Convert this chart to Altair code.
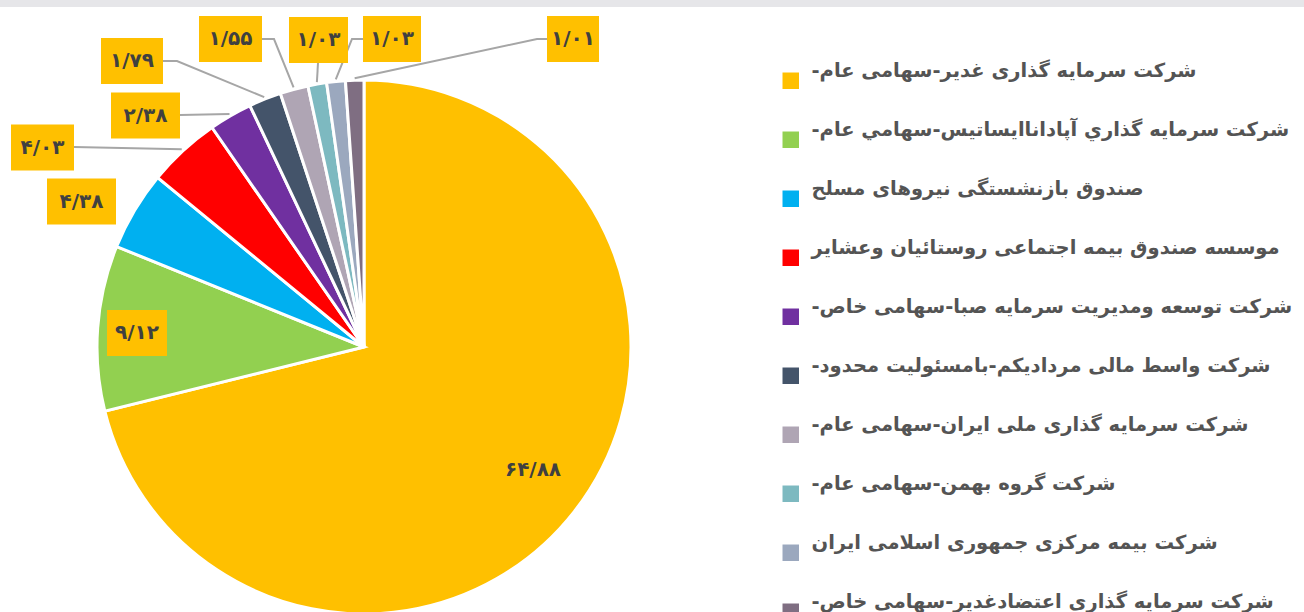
import math
import altair as alt
import pandas as pd

# ---------------- data ----------------
names = [
    "شرکت سرمایه گذاری غدیر-سهامی عام-",
    "شرکت سرمایه گذاري آپاداناایساتیس-سهامي عام-",
    "صندوق بازنشستگی نیروهای مسلح",
    "موسسه صندوق بیمه اجتماعی روستائیان وعشایر",
    "شرکت توسعه ومدیریت سرمایه صبا-سهامی خاص-",
    "شرکت واسط مالی مردادیکم-بامسئولیت محدود-",
    "شرکت سرمایه گذاری ملی ایران-سهامی عام-",
    "شرکت گروه بهمن-سهامی عام-",
    "شرکت بیمه مرکزی جمهوری اسلامی ایران",
    "شرکت سرمایه گذاری اعتضادغدیر-سهامی خاص-",
]
values = [64.88, 9.12, 4.38, 4.03, 2.38, 1.79, 1.55, 1.03, 1.03, 1.01]
colors = ["#FFC000", "#92D050", "#00B0F0", "#FF0000", "#7030A0",
          "#44546A", "#AFA5B4", "#7DB9C0", "#9BA8BE", "#7F6E82"]

# ---------------- layout ----------------
CX, CY, R = 364, 347, 267
label_x = [533, 137, 81.5, 42.5, 145.5, 132, 230.5, 318.5, 392, 573]
label_y = [470, 333, 201.5, 147.5, 115.5, 61, 39, 40, 39, 39]
box_w = [0, 60, 69, 63, 69, 62, 63, 59, 58, 52]
BOX_H = 46
leader_start = [None, None, None, (74, 147), (180, 115), (163, 61),
                (262, 39), (318, 63), (363, 39), (547, 39)]
leader_elbow = [None, None, None, None, None, (177, 61),
                (274, 39), None, (352, 39), (537, 39)]

to_fa = str.maketrans("0123456789.", "۰۱۲۳۴۵۶۷۸۹/")
labels = [f"{v:.2f}".translate(to_fa) for v in values]

pie_df = pd.DataFrame({"name": names, "value": values, "ord": list(range(len(values)))})

total = sum(values)
cum = 0.0
mids = []
for v in values:
    mids.append((cum + v / 2) / total * 2 * math.pi)
    cum += v

line_rows = []
for i, st in enumerate(leader_start):
    if st is None:
        continue
    ax = CX + (R + 2) * math.sin(mids[i])
    ay = CY - (R + 2) * math.cos(mids[i])
    pts = [st]
    if leader_elbow[i] is not None:
        pts.append(leader_elbow[i])
    pts.append((ax, ay))
    for k, (px, py) in enumerate(pts):
        line_rows.append({"seg": i, "k": k, "px": px, "py": py})
line_df = pd.DataFrame(line_rows)

box_df = pd.DataFrame([
    {"x0": label_x[i] - box_w[i] / 2, "x1": label_x[i] + box_w[i] / 2,
     "y0": label_y[i] - BOX_H / 2, "y1": label_y[i] + BOX_H / 2}
    for i in range(len(values)) if box_w[i] > 0
])
text_df = pd.DataFrame({"lx": label_x, "ly": label_y, "lab": labels})

# ---------------- marks ----------------
topbar = alt.Chart(pd.DataFrame({"a": [0]})).mark_rect(color="#E6E6E9").encode(
    x=alt.value(0), x2=alt.value(1304), y=alt.value(0), y2=alt.value(7)
)

arc = alt.Chart(pie_df).mark_arc(radius=R, stroke="white", strokeWidth=3).encode(
    theta=alt.Theta("value:Q", stack=True),
    order=alt.Order("ord:Q"),
    color=alt.Color(
        "name:N",
        sort=names,
        scale=alt.Scale(domain=names, range=colors),
        legend=alt.Legend(
            title=None, orient="none", legendX=781, legendY=71, padding=0,
            symbolType="square", symbolSize=272, symbolStrokeWidth=0, symbolOpacity=1,
            labelFont="DejaVu Sans", labelFontSize=19.5, labelFontWeight="bold",
            labelColor="#545454", labelLimit=1000, labelOffset=11,
            labelBaseline="bottom", rowPadding=30,
            labelExpr="datum.label + '\u200f'",
        ),
    ),
    x=alt.value(CX),
    y=alt.value(CY),
)

lines = alt.Chart(line_df).mark_line(color="#A6A6A6", strokeWidth=2).encode(
    x=alt.X("px:Q", scale=None),
    y=alt.Y("py:Q", scale=None),
    detail="seg:N",
    order="k:Q",
)

boxes = alt.Chart(box_df).mark_rect(color="#FFC000").encode(
    x=alt.X("x0:Q", scale=None), x2="x1:Q",
    y=alt.Y("y0:Q", scale=None), y2="y1:Q",
)

texts = alt.Chart(text_df).mark_text(
    font="DejaVu Sans", fontSize=20, fontWeight="bold", color="#404040",
    align="center", baseline="middle",
).encode(
    x=alt.X("lx:Q", scale=None),
    y=alt.Y("ly:Q", scale=None),
    text="lab:N",
)

chart = alt.layer(topbar, arc, lines, boxes, texts).properties(
    width=1304, height=612, autosize="none", padding=0, background="white"
).configure_view(stroke=None)

chart.save("out.html", embed_options={"renderer": "svg", "actions": False})
